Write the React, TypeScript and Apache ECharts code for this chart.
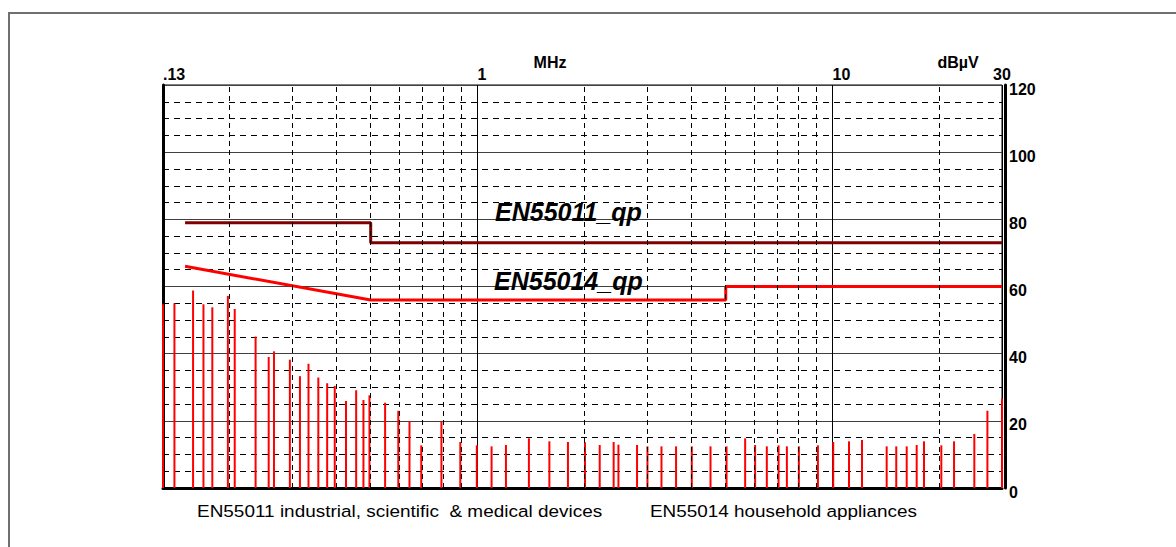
import React, { useEffect, useRef } from "react";
import * as echarts from "echarts";

// Spectrum peaks (MHz, dBµV)
const barFreqs = [
  0.13, 0.14, 0.158, 0.169, 0.179, 0.198, 0.207, 0.237, 0.258, 0.267, 0.296, 0.316, 0.334, 0.356,
  0.377, 0.396, 0.426, 0.455, 0.477, 0.496, 0.549, 0.598, 0.643, 0.694, 0.791, 0.894, 0.995, 1.095,
  1.202, 1.395, 1.593, 1.797, 2.007, 2.208, 2.417, 2.493, 2.813, 3.009, 3.296, 3.623, 4.012, 4.53,
  5.026, 5.671, 6.05, 6.527, 7.043, 7.433, 8.035, 9.091, 10.04, 11.12, 12.1, 14.2, 15.11, 16.17,
  17.25, 18.09, 20.24, 21.98, 25.07, 27.29, 30.0,
];
const barLevels = [
  54.7, 55.0, 58.8, 54.7, 53.8, 57.2, 53.3, 45.1, 39.0, 40.7, 38.2, 33.3, 37.0, 32.9,
  31.2, 30.4, 25.9, 29.1, 26.2, 27.6, 25.4, 23.0, 19.8, 12.7, 19.8, 13.7, 12.7, 12.4,
  12.8, 14.8, 13.9, 13.7, 13.6, 12.8, 13.7, 12.9, 12.8, 12.4, 12.4, 12.4, 12.4, 12.4,
  12.4, 14.8, 12.8, 12.4, 12.7, 12.4, 12.4, 12.7, 13.7, 13.9, 14.3, 12.4, 12.4, 12.4,
  12.8, 13.9, 12.7, 13.9, 16.1, 23.0, 26.6,
];

// Limit lines
const en55011Freqs = [0.15, 0.5, 0.5, 30];
const en55011Levels = [79, 79, 73, 73];
const en55014Freqs = [0.15, 0.5, 5, 5, 30];
const en55014Levels = [66, 56, 56, 60, 60];

// Axis setup
const xMin = 0.13;
const xMax = 30;
const yMin = 0;
const yMax = 120;
const yInterval = 20;
const dashedGridFreqs = [0.2, 0.3, 0.4, 0.5, 0.6, 0.7, 0.8, 0.9, 2, 3, 4, 5, 6, 7, 8, 9, 20];

const xLabelFormatter = (v: number) =>
  Math.abs(v - 0.13) < 1e-6 ? ".13" : String(Math.round(v));

export default function App() {
  const ref = useRef<HTMLDivElement>(null);

  useEffect(() => {
    if (!ref.current) return;
    const chart = echarts.init(ref.current, undefined, { renderer: "svg" });
    const font = '"Liberation Sans", Arial, sans-serif';

    const option: any = {
      animation: false,
      backgroundColor: "#ffffff",
      grid: {
        left: 163,
        right: 174,
        top: 85,
        bottom: 59,
        show: true,
        borderColor: "#000",
        borderWidth: 1,
        backgroundColor: "transparent",
      },
      xAxis: [
        {
          type: "log",
          logBase: 10,
          min: xMin,
          max: xMax,
          position: "top",
          axisLine: { show: true, lineStyle: { color: "#000", width: 2 } },
          axisTick: { show: false },
          axisLabel: {
            formatter: xLabelFormatter,
            color: "#000",
            fontWeight: "bold",
            fontSize: 16,
            fontFamily: font,
            margin: 3,
            align: "left",
            alignMaxLabel: "center",
          },
          splitLine: { show: true, lineStyle: { color: "#000", width: 1 } },
        },
        {
          type: "log",
          logBase: 10,
          min: xMin,
          max: xMax,
          position: "bottom",
          axisLine: { show: true, lineStyle: { color: "#000", width: 3 } },
          axisTick: { show: false },
          axisLabel: { show: false },
          splitLine: { show: false },
        },
      ],
      yAxis: [
        {
          type: "value",
          min: yMin,
          max: yMax,
          interval: yInterval,
          position: "right",
          offset: 3,
          axisLine: { show: true, lineStyle: { color: "#000", width: 3 } },
          axisTick: { show: false },
          axisLabel: {
            color: "#000",
            fontWeight: "bold",
            fontSize: 16,
            fontFamily: font,
            margin: 4,
            verticalAlign: "top",
            lineHeight: 8,
          },
          splitLine: { show: true, lineStyle: { color: "#404040", width: 1 } },
          minorTick: { show: false, splitNumber: 4 },
          minorSplitLine: { show: true, lineStyle: { color: "#000", width: 1, type: [6, 5] } },
        },
        {
          type: "value",
          min: yMin,
          max: yMax,
          interval: yInterval,
          position: "left",
          axisLine: { show: true, lineStyle: { color: "#000", width: 3 } },
          axisTick: { show: false },
          axisLabel: { show: false },
          splitLine: { show: false },
        },
      ],
      series: [
        {
          name: "grid",
          type: "line",
          data: [],
          silent: true,
          z: 1,
          markLine: {
            silent: true,
            symbol: "none",
            label: { show: false },
            lineStyle: { color: "#000", width: 1, type: [5, 4] },
            data: dashedGridFreqs.map((f) => ({ xAxis: f })),
          },
        },
        {
          name: "spectrum",
          type: "custom",
          z: 3,
          silent: true,
          encode: { x: 0, y: 1 },
          data: barFreqs.map((f, i) => [f, barLevels[i]]),
          renderItem: (params: any, api: any) => {
            const f = api.value(0);
            const v = api.value(1);
            const p0 = api.coord([f, 0]);
            const p1 = api.coord([f, v]);
            return {
              type: "line",
              shape: { x1: p0[0], y1: p0[1], x2: p1[0], y2: p1[1] },
              style: { stroke: "#ff0000", lineWidth: 2 },
            };
          },
        },
        {
          name: "EN55011_qp",
          type: "line",
          z: 4,
          symbol: "none",
          silent: true,
          data: en55011Freqs.map((f, i) => [f, en55011Levels[i]]),
          lineStyle: { color: "#800000", width: 3 },
        },
        {
          name: "EN55014_qp",
          type: "line",
          z: 4,
          symbol: "none",
          silent: true,
          data: en55014Freqs.map((f, i) => [f, en55014Levels[i]]),
          lineStyle: { color: "#ff0000", width: 3 },
        },
      ],
      graphic: [
        {
          type: "rect",
          silent: true,
          shape: { x: 9, y: 13, width: 1400, height: 800 },
          style: { fill: "none", stroke: "#707070", lineWidth: 2 },
        },
        {
          type: "text",
          x: 550,
          y: 62,
          style: {
            text: "MHz",
            font: `bold 16px ${font}`,
            fill: "#000",
            textAlign: "center",
            textVerticalAlign: "middle",
          },
        },
        {
          type: "text",
          x: 958,
          y: 62,
          style: {
            text: "dBµV",
            font: `bold 16px ${font}`,
            fill: "#000",
            textAlign: "center",
            textVerticalAlign: "middle",
          },
        },
        {
          type: "text",
          x: 495,
          y: 211.5,
          z: 10,
          style: {
            text: "EN55011_qp",
            font: `italic bold 25px ${font}`,
            fill: "#000",
            textAlign: "left",
            textVerticalAlign: "middle",
          },
        },
        {
          type: "text",
          x: 494,
          y: 280.5,
          z: 10,
          style: {
            text: "EN55014_qp",
            font: `italic bold 25px ${font}`,
            fill: "#000",
            textAlign: "left",
            textVerticalAlign: "middle",
          },
        },
        {
          type: "text",
          x: 197,
          y: 511,
          scaleX: 1.115,
          style: {
            text: "EN55011 industrial, scientific  & medical devices",
            font: `17px ${font}`,
            fill: "#000",
            textAlign: "left",
            textVerticalAlign: "middle",
          },
        },
        {
          type: "text",
          x: 650,
          y: 511,
          scaleX: 1.113,
          style: {
            text: "EN55014 household appliances",
            font: `17px ${font}`,
            fill: "#000",
            textAlign: "left",
            textVerticalAlign: "middle",
          },
        },
      ],
    };

    chart.setOption(option);
    return () => chart.dispose();
  }, []);

  return (
    <div
      ref={ref}
      style={{ position: "absolute", left: 0, top: 0, width: 1176, height: 547, background: "#fff" }}
    />
  );
}
